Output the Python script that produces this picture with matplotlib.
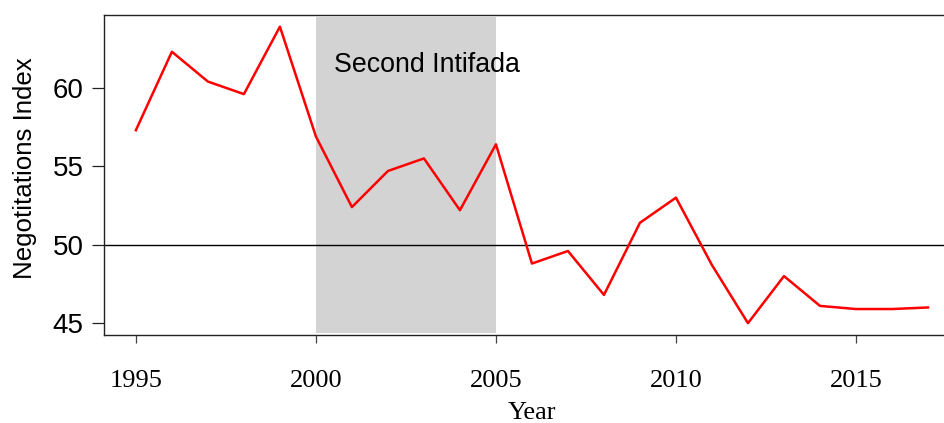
import matplotlib
matplotlib.use("Agg")
import matplotlib.pyplot as plt

# --- Data ---
years = list(range(1995, 2018))
negotiations = [57.3, 62.3, 60.4, 59.6, 63.9, 56.9, 52.4, 54.7, 55.5, 52.2,
                56.4, 48.8, 49.6, 46.8, 51.4, 53.0, 48.7, 45.0, 48.0, 46.1,
                45.9, 45.9, 46.0]
x_ticks = [1995, 2000, 2005, 2010, 2015]
y_ticks = [45, 50, 55, 60]
intifada_start, intifada_end = 2000, 2005
reference_level = 50

sans = "Liberation Sans"
serif = "Liberation Serif"

fig = plt.figure(figsize=(9.44, 4.23), dpi=100)
ax = fig.add_axes([0.110, 0.208, 0.907, 0.757])

ymin = min(negotiations) - 0.04 * (max(negotiations) - min(negotiations))
ymax = max(negotiations) + 0.04 * (max(negotiations) - min(negotiations))
ax.set_ylim(ymin, ymax)
ax.set_xlim(1994.11, 2017.89)

# shaded period
ax.axvspan(intifada_start, intifada_end, ymin=0.006, ymax=0.994,
           color="#d3d3d3", lw=0, zorder=1)
ax.text(2003.08, 61.45, "Second Intifada", fontsize=19.3, family=sans,
        ha="center", va="center", zorder=3)

ax.axhline(reference_level, color="black", lw=1.0, zorder=2)
ax.plot(years, negotiations, color="#ff0000", lw=1.8, zorder=4)

for side in ["left", "top", "bottom"]:
    ax.spines[side].set_linewidth(1.0)
    ax.spines[side].set_color("#222222")
ax.spines["right"].set_visible(False)

ax.set_xticks(x_ticks)
ax.set_yticks(y_ticks)
ax.tick_params(axis="y", length=8.5, width=0.9, pad=6, labelsize=20, color="#222222")
ax.tick_params(axis="x", length=5.5, width=0.9, pad=20, labelsize=19, color="#444444")
for lbl in ax.get_yticklabels():
    lbl.set_family(sans)
for lbl in ax.get_xticklabels():
    lbl.set_family(serif)

ax.set_xlabel("Year", family=serif, fontsize=19, labelpad=7)
ax.set_ylabel("Negotitations Index", family=sans, fontsize=18.6)
ax.yaxis.set_label_coords(-0.0775, 0.522)

fig.savefig("out.png", dpi=100)
